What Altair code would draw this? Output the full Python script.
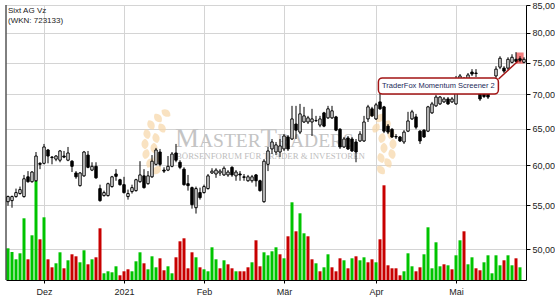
import altair as alt
import pandas as pd

# ---- data (Sixt AG Vz, daily, Nov 2020 - May 2021) ----
month_ticks = [9, 29, 49, 69, 92, 112]
month_labels = ["Dez", "2021", "Feb", "Mär", "Apr", "Mai"]
price_ticks = [50, 55, 60, 65, 70, 75, 80, 85]

open_ = [55.45, 55.58, 56.07, 56.44, 56.07, 58.53, 57.91, 58.03, 60.27, 60.27,
         62.04, 61.09, 60.82, 60.68, 61.23, 60.68, 60.55, 59.02, 57.42, 58.65,
         61.36, 59.39, 59.88, 57.05, 56.19, 56.19, 57.30, 58.89, 58.16, 57.54,
         56.07, 56.68, 56.80, 57.91, 58.65, 57.66, 58.53, 60.14, 61.77, 59.39,
         59.39, 59.88, 61.64, 60.41, 59.51, 57.66, 57.17, 54.73, 56.56, 56.56,
         57.05, 59.02, 58.89, 59.02, 58.77, 58.77, 59.75, 58.65, 58.89, 58.53,
         58.03, 58.03, 58.77, 58.03, 55.45, 60.14, 62.18, 61.77, 61.77, 62.18,
         63.82, 63.54, 65.64, 64.50, 65.93, 65.93, 65.93, 66.12, 65.49, 67.25,
         66.52, 66.52, 66.66, 64.90, 62.45, 63.68, 63.54, 63.13, 63.27, 63.27,
         66.37, 67.84, 66.37, 68.87, 68.13, 65.34, 64.90, 63.88, 63.82, 63.13,
         64.63, 66.37, 66.66, 64.63, 64.77, 64.63, 67.25, 68.28, 68.57, 68.87,
         69.31, 68.87, 68.57, 72.08, 71.77, 72.39, 73.48, 73.33, 70.52, 70.05,
         70.05, 70.52, 72.86, 74.27, 74.11, 74.11, 75.05, 75.55, 75.63, 75.05]

close_ = [56.07, 56.07, 56.56, 56.93, 58.28, 57.91, 59.14, 61.23, 60.14, 62.45,
          61.23, 61.02, 61.23, 61.91, 61.09, 61.64, 59.88, 58.53, 59.02, 61.77,
          59.75, 59.88, 58.40, 55.58, 56.56, 57.66, 58.53, 58.59, 57.54, 56.56,
          56.44, 57.17, 58.16, 58.77, 57.17, 58.65, 60.55, 62.04, 60.14, 59.26,
          59.88, 61.50, 60.68, 59.75, 57.54, 57.42, 55.09, 57.05, 55.94, 57.30,
          58.65, 59.26, 59.39, 59.26, 59.63, 59.14, 58.77, 59.14, 58.77, 58.46,
          58.53, 58.53, 58.03, 56.80, 60.55, 61.91, 63.13, 62.73, 62.59, 63.95,
          62.18, 66.37, 64.77, 67.10, 66.81, 66.52, 66.37, 66.15, 66.37, 65.34,
          67.84, 67.55, 64.77, 62.45, 63.54, 62.18, 61.91, 61.77, 64.22, 65.93,
          68.13, 66.81, 68.43, 67.84, 64.63, 64.50, 63.82, 63.82, 63.27, 64.50,
          66.08, 67.40, 65.19, 63.27, 63.82, 68.13, 68.57, 69.60, 69.60, 69.31,
          68.57, 69.31, 70.36, 72.86, 72.39, 73.02, 73.17, 73.25, 69.31, 69.68,
          69.60, 71.61, 73.95, 75.72, 73.64, 75.55, 75.88, 75.22, 75.38, 75.55]

high = [56.19, 56.19, 57.05, 57.30, 58.77, 59.26, 59.26, 61.77, 60.41, 62.86,
        62.18, 61.23, 61.36, 62.04, 61.91, 62.45, 60.68, 59.26, 59.14, 61.91,
        61.91, 60.41, 60.41, 57.54, 56.80, 57.79, 58.65, 59.51, 58.28, 58.53,
        56.93, 57.54, 58.28, 60.55, 59.51, 59.26, 61.36, 62.32, 62.18, 59.75,
        61.23, 61.77, 62.86, 60.68, 59.75, 58.77, 57.30, 57.30, 57.17, 57.54,
        58.89, 59.63, 59.63, 59.51, 59.88, 59.39, 59.88, 59.39, 59.26, 58.89,
        58.77, 58.77, 58.89, 58.16, 60.82, 62.45, 63.54, 63.13, 63.54, 64.22,
        64.09, 68.28, 68.28, 68.57, 68.13, 66.81, 67.84, 66.81, 66.81, 67.40,
        68.28, 68.28, 66.81, 65.04, 63.82, 63.95, 63.82, 63.54, 64.63, 66.81,
        68.43, 68.13, 68.72, 70.36, 68.28, 65.64, 65.04, 64.22, 63.95, 64.77,
        67.40, 67.69, 67.10, 64.77, 64.90, 68.28, 68.87, 69.90, 69.75, 69.60,
        69.60, 69.60, 72.86, 73.17, 72.70, 73.33, 73.95, 73.95, 71.14, 70.52,
        70.36, 71.92, 74.42, 76.05, 74.42, 75.88, 76.38, 76.72, 76.05, 75.88]

low = [54.97, 54.73, 55.94, 56.31, 55.94, 57.79, 57.79, 57.91, 59.51, 60.14,
       60.27, 60.14, 60.55, 60.41, 60.95, 60.55, 59.14, 58.28, 57.30, 58.53,
       59.63, 59.26, 58.28, 55.45, 56.07, 56.07, 57.17, 58.03, 57.42, 56.44,
       55.70, 56.44, 56.68, 57.79, 57.05, 57.54, 58.40, 60.00, 59.88, 59.02,
       59.26, 59.75, 60.41, 59.51, 57.42, 56.80, 54.62, 54.04, 55.70, 56.44,
       56.93, 58.89, 58.40, 58.65, 58.65, 58.53, 58.53, 58.03, 58.03, 58.03,
       57.91, 57.79, 57.30, 56.68, 55.33, 59.26, 61.50, 61.36, 61.09, 61.91,
       61.91, 63.41, 63.54, 64.22, 65.78, 65.64, 63.95, 65.93, 65.19, 65.19,
       66.37, 66.37, 64.63, 62.18, 62.32, 62.04, 61.77, 60.41, 63.13, 63.13,
       65.93, 66.66, 66.22, 67.69, 64.36, 64.22, 63.68, 63.54, 63.13, 62.86,
       64.50, 66.22, 64.90, 62.86, 63.68, 64.50, 67.10, 68.13, 68.43, 68.72,
       68.43, 68.72, 68.43, 71.77, 71.45, 72.08, 72.86, 72.70, 69.02, 69.46,
       69.31, 70.36, 72.55, 73.95, 73.33, 73.80, 74.89, 75.05, 75.05, 74.89]

# volume in thousand shares (relative heights)
volume = [31.7, 28.0, 20.7, 26.7, 61.7, 20.7, 44.7, 99.0, 40.7, 62.7,
          20.7, 12.7, 16.7, 27.7, 11.7, 19.7, 25.7, 23.7, 17.7, 29.7,
          15.7, 20.7, 22.7, 51.7, 6.7, 8.7, 7.7, 13.7, 4.7, 8.7,
          10.7, 8.7, 18.7, 27.7, 16.7, 10.7, 23.7, 12.7, 21.7, 9.7,
          13.7, 6.7, 22.7, 38.7, 41.7, 11.7, 27.7, 22.7, 12.7, 10.7,
          8.7, 32.7, 20.7, 11.7, 19.7, 15.7, 11.7, 8.7, 8.7, 8.7,
          12.7, 17.7, 39.7, 13.7, 27.7, 24.7, 28.7, 32.7, 25.7, 21.7,
          43.7, 77.7, 48.7, 66.7, 46.7, 43.7, 20.7, 16.7, 8.7, 12.7,
          25.7, 12.7, 8.7, 21.7, 19.7, 11.7, 21.7, 23.7, 19.7, 22.7,
          17.7, 20.7, 17.7, 40.7, 94.7, 14.7, 11.7, 11.7, 4.7, 8.7,
          26.7, 13.7, 8.7, 12.7, 25.7, 52.7, 11.7, 37.7, 13.7, 15.7,
          14.7, 10.7, 24.7, 39.7, 48.7, 15.7, 22.7, 11.7, 9.7, 17.7,
          24.7, 6.7, 24.7, 14.7, 19.7, 24.7, 14.7, 21.7, 12.7, 0.0]

# g = volume bar green (up), r = red (down)
vol_dir = ("gggggrggrg" "rrggrgrrgg" "rgrrggggrr" "rgggrgggrr" "ggrrrrrgrg"
           "gggrgrrgrr" "rgrrggggrg" "rgrggrrgrg" "grrrgrgrgg" "rrgrrrrrrg"
           "ggrrgggggr" "grggrggrrg" "ggggrggrgg")

# annotation anchors (index / price)
ann_box = {"x0": 92.6, "x1": 122.6, "p0": 72.55, "p1": 70.05}
ann_text = {"x": 107.6, "p": 71.28, "text": "TraderFox Momentum Screener 2"}
ann_line = {"x0": 122.65, "p0": 72.39, "x1": 127.6, "p1": 75.3}
ann_mark = {"x0": 127.0, "x1": 128.9, "p0": 76.67, "p1": 74.8}

# ---- build ----
n = len(close_)
df = pd.DataFrame({"i": list(range(n)), "open": open_, "high": high, "low": low,
                   "close": close_, "volume": volume, "dir": list(vol_dir)})

W, H = 520, 275
PMIN, PMAX = 46.78, 85.0
FONT = "Liberation Sans"
SERIF = "Liberation Serif"

label_expr = " : ".join(f"datum.value == {v} ? '{l}'" for v, l in zip(month_ticks, month_labels)) + " : ''"

x_scale = alt.Scale(domain=[-0.5, n - 0.5], nice=False, zero=False)
x_axis = alt.Axis(values=month_ticks, labelExpr=label_expr, title=None, grid=True,
                  gridColor="#d4d4d4", gridWidth=1, domainColor="#000", tickColor="#000",
                  tickSize=3, labelPadding=4, labelFont=FONT, labelFontSize=9,
                  labelColor="#222", labelFlush=False)
y_scale = alt.Scale(type="log", domain=[PMIN, PMAX], nice=False, zero=False)
y_axis = alt.Axis(orient="right", values=price_ticks, title=None,
                  labelExpr="replace(format(datum.value, '.2f'), '.', ',')",
                  grid=True, gridColor="#d4d4d4", gridWidth=1, domainColor="#000",
                  tickColor="#000", tickSize=4, labelPadding=2, labelFont=FONT,
                  labelFontSize=9, labelColor="#222")

base = alt.Chart(df)

vmax = max(volume) / 0.36
vol_layer = base.transform_calculate(
    x0="datum.i - 0.375", x1="datum.i + 0.375", zero="0"
).mark_bar().encode(
    x=alt.X("x0:Q", scale=x_scale, axis=x_axis),
    x2="x1:Q",
    y=alt.Y("volume:Q", scale=alt.Scale(domain=[0, vmax], nice=False), axis=None),
    y2="zero:Q",
    color=alt.Color("dir:N", scale=alt.Scale(domain=["g", "r"], range=["#00c400", "#c80000"]),
                    legend=None),
)

wick = base.mark_rule(color="#000", strokeWidth=1).encode(
    x=alt.X("i:Q", scale=x_scale, axis=x_axis),
    y=alt.Y("low:Q", scale=y_scale, axis=y_axis),
    y2="high:Q",
)

body = base.transform_calculate(
    x0="datum.i - 0.3", x1="datum.i + 0.3",
    top="max(datum.open, datum.close)", bot="min(datum.open, datum.close)"
).mark_bar(stroke="#000", strokeWidth=1).encode(
    x=alt.X("x0:Q", scale=x_scale, axis=x_axis),
    x2="x1:Q",
    y=alt.Y("bot:Q", scale=y_scale, axis=y_axis),
    y2="top:Q",
    fill=alt.condition("datum.close >= datum.open", alt.value("#ffffff"), alt.value("#000000")),
)

mark_df = pd.DataFrame([ann_mark])
sig = alt.Chart(mark_df).mark_rect(fill="#f26a6a", opacity=0.85).encode(
    x=alt.X("x0:Q", scale=x_scale, axis=x_axis), x2="x1:Q",
    y=alt.Y("p0:Q", scale=y_scale, axis=y_axis), y2="p1:Q",
)
line_df = pd.DataFrame([ann_line])
pointer = alt.Chart(line_df).mark_rule(color="#a31515", strokeWidth=1.5).encode(
    x=alt.X("x0:Q", scale=x_scale, axis=x_axis), x2="x1:Q",
    y=alt.Y("p0:Q", scale=y_scale, axis=y_axis), y2="p1:Q",
)
box_df = pd.DataFrame([ann_box])
box = alt.Chart(box_df).mark_rect(fill="#ffffff", stroke="#a31515", strokeWidth=1.5,
                                  cornerRadius=4).encode(
    x=alt.X("x0:Q", scale=x_scale, axis=x_axis), x2="x1:Q",
    y=alt.Y("p0:Q", scale=y_scale, axis=y_axis), y2="p1:Q",
)
txt_df = pd.DataFrame([ann_text])
box_txt = alt.Chart(txt_df).mark_text(font=FONT, fontSize=7.5, color="#1c2a5a",
                                      align="center", baseline="middle").encode(
    x=alt.X("x:Q", scale=x_scale, axis=x_axis),
    y=alt.Y("p:Q", scale=y_scale, axis=y_axis),
    text="text:N",
)

price_layer = alt.layer(sig, wick, body, pointer, box, box_txt)

# ---- watermark logo (decoration) ----
one = pd.DataFrame({"k": [0]})


def wm_text(s, x, size, y=142, color="#c4c4c4"):
    return alt.Chart(one).mark_text(text=s, font=SERIF, fontSize=size, color=color,
                                    align="left", baseline="alphabetic").encode(
        x=alt.value(x), y=alt.value(y))


wm = [wm_text("M", 169, 27), wm_text("ASTER", 193, 19.5), wm_text("T", 254.5, 27),
      wm_text("RADERS", 271, 19.5),
      wm_text("BÖRSENFORUM FÜR TRADER & INVESTOREN", 170, 8.8, y=154, color="#bdbdbd")]

leaf_path = "M0,-1C0.9,-0.55 0.9,0.55 0,1C-0.9,0.55 -0.9,-0.55 0,-1Z"
left_leaves = [(166, 113, 55), (158, 118, 40), (151, 125, 28), (147, 134, 14), (145, 144, 0),
               (146, 154, -14), (150, 163, -28), (157, 170, -42),
               (162, 128, 30), (156, 138, 15), (154, 148, 0), (157, 158, -18)]
leaf_rows = []
for (lx, ly, la) in left_leaves:
    leaf_rows.append({"px": lx - 6, "py": ly - 5, "ang": (360 - la) % 360})
    leaf_rows.append({"px": 538 - lx - 6, "py": ly - 5, "ang": la % 360})
leaves = alt.Chart(pd.DataFrame(leaf_rows)).mark_point(
    shape=leaf_path, filled=True, fill="#f7d6a6", opacity=0.7, size=110, strokeWidth=0
).encode(
    x=alt.X("px:Q", scale=None), y=alt.Y("py:Q", scale=None), angle=alt.Angle("ang:Q", scale=None)
)

t1 = alt.Chart(one).mark_text(text="Sixt AG Vz", font=FONT, fontSize=8, color="#222",
                              align="left", baseline="alphabetic").encode(
    x=alt.value(2), y=alt.value(8))
t2 = alt.Chart(one).mark_text(text="(WKN: 723133)", font=FONT, fontSize=8, color="#222",
                              align="left", baseline="alphabetic").encode(
    x=alt.value(2), y=alt.value(18))
left_border = alt.Chart(one).mark_rule(color="#000", strokeWidth=1).encode(
    x=alt.value(0), y=alt.value(0), y2=alt.value(H))

chart = alt.layer(leaves, *wm, vol_layer, price_layer, t1, t2, left_border).resolve_scale(
    y="independent"
).properties(
    width=W, height=H, autosize=alt.AutoSizeParams(type="none"),
    padding={"left": 6, "top": 5, "right": 29, "bottom": 20},
).configure_view(stroke=None)

chart.save("out.html", embed_options={"renderer": "svg", "actions": False})
